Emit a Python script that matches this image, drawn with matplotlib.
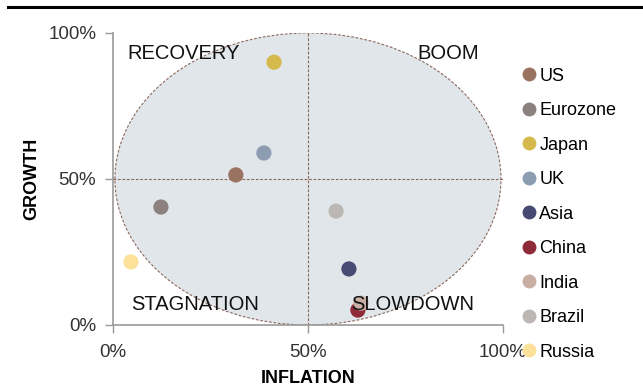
import matplotlib.pyplot as plt
from matplotlib.patches import Ellipse
from matplotlib.lines import Line2D

# Economy positions on the inflation / growth cycle (fractions of 1)
regions = ['US', 'Eurozone', 'Japan', 'UK', 'Asia', 'China', 'India', 'Brazil', 'Russia']
inflation = [0.315, 0.123, 0.413, 0.387, 0.605, 0.628, 0.636, 0.572, 0.046]
growth = [0.514, 0.404, 0.900, 0.589, 0.192, 0.051, 0.075, 0.390, 0.216]
colors = ['#9a7262', '#8b817f', '#d6b94c', '#8c9db2', '#474a72',
          '#8f2b38', '#c9aea3', '#bcb6b4', '#fbe199']

quadrants = ['RECOVERY', 'BOOM', 'STAGNATION', 'SLOWDOWN']
quad_xy = [(0.037, 0.93), (0.78, 0.93), (0.046, 0.07), (0.61, 0.07)]

ticks = [0, 0.5, 1.0]
tick_labels = ['0%', '50%', '100%']

plt.rcParams['font.family'] = ['Liberation Sans', 'DejaVu Sans']

fig = plt.figure(figsize=(6.43, 3.90), dpi=100)
ax = fig.add_axes([0.1757, 0.1667, 0.6065, 0.7487])

# Cycle ellipse with the two dashed quadrant dividers
ax.add_patch(Ellipse((0.5, 0.5), 0.99, 1.0, facecolor='#e1e6ea',
                     edgecolor='#8b6a5c', lw=0.8, ls=(0, (2.5, 1.5)), zorder=1))
ax.axvline(0.5, color='#8b6a5c', lw=0.8, ls=(0, (2.5, 1.5)), zorder=2)
ax.axhline(0.5, color='#8b6a5c', lw=0.8, ls=(0, (2.5, 1.5)), zorder=2)

for name, x, y, c in zip(regions, inflation, growth, colors):
    ax.scatter(x, y, s=120, color=c, edgecolors='none', zorder=3, label=name)

for label, (x, y) in zip(quadrants, quad_xy):
    ax.text(x, y, label, fontsize=14.5, color='#111111', ha='left', va='center', zorder=4)

ax.set_xlim(0, 1)
ax.set_ylim(0, 1)
ax.set_xticks(ticks)
ax.set_yticks(ticks)
ax.set_xticklabels(tick_labels)
ax.set_yticklabels(tick_labels)
ax.tick_params(colors='#999999', labelcolor='#333333', labelsize=13.5, length=6, width=1)
ax.tick_params(axis='x', pad=8)
ax.tick_params(axis='y', pad=6)
for side in ['top', 'right']:
    ax.spines[side].set_visible(False)
for side in ['left', 'bottom']:
    ax.spines[side].set_color('#999999')
    ax.spines[side].set_linewidth(1.2)
ax.set_xlabel('INFLATION', fontsize=13, fontweight='bold', labelpad=6)
ax.set_ylabel('GROWTH', fontsize=13, fontweight='bold', labelpad=6)

handles = [Line2D([], [], marker='o', ls='none', markersize=10, color=c, markeredgewidth=0)
           for c in colors]
fig.legend(handles, regions, loc='upper left', bbox_to_anchor=(0.794, 0.845),
           frameon=False, fontsize=13, handletextpad=0.0, labelspacing=0.97,
           handlelength=1.2, borderaxespad=0)

# Black rule across the top of the figure
fig.add_artist(Line2D([0.012, 1.0], [0.982, 0.982], color='black', lw=2.2))

fig.savefig('out.png', dpi=100)
